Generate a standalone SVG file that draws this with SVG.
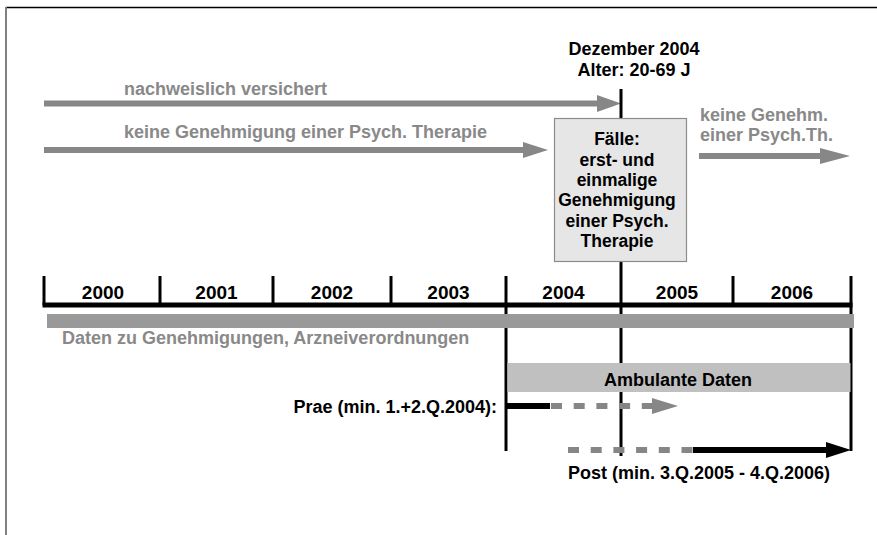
<svg xmlns="http://www.w3.org/2000/svg" width="877" height="535" viewBox="0 0 877 535">
<style>
text{font-family:"Liberation Sans",Arial,sans-serif;font-weight:bold;font-size:18px}
.g{fill:#898989}
.k{fill:#000}
.c{text-anchor:middle}
.ga{fill:#878787}
.yr{font-size:19px}
.bx{font-size:17.5px}
.dash{fill:none;stroke:#868686;stroke-width:6;stroke-dasharray:11 11.7}
.blk{stroke:#000;stroke-width:3;fill:none}
</style>
<rect x="0" y="0" width="877" height="535" fill="#fff"/>
<g id="frame">
<line x1="6" y1="7.5" x2="877" y2="7.5" stroke="#000" stroke-width="1.5"/>
<line x1="6" y1="7" x2="6" y2="535" stroke="#808080" stroke-width="2"/>
</g>
<g id="connectors">
<polygon class="ga" points="44,100.5 597,100.5 597,95 621,103.5 597,112 597,106.5 44,106.5"/>
<polygon class="ga" points="44,147 523,147 523,142 548,150 523,158 523,153 44,153"/>
<polygon class="ga" points="699,153 820,153 820,148 850,156 820,164 820,159 699,159"/>
<line class="blk" x1="621" y1="89" x2="621" y2="456"/>
<line class="blk" x1="506" y1="276" x2="506" y2="451"/>
<line class="blk" x1="851" y1="276" x2="851" y2="451"/>
<line class="blk" x1="44" y1="276" x2="44" y2="305"/>
<line class="blk" x1="160" y1="276" x2="160" y2="305"/>
<line class="blk" x1="273" y1="276" x2="273" y2="305"/>
<line class="blk" x1="391" y1="276" x2="391" y2="305"/>
<line class="blk" x1="733" y1="276" x2="733" y2="305"/>
<line x1="42.5" y1="305" x2="852.5" y2="305" stroke="#000" stroke-width="5"/>
<rect x="47" y="314" width="807" height="14" fill="#999"/>
<line x1="506" y1="406" x2="550" y2="406" stroke="#000" stroke-width="6"/>
<line class="dash" x1="551" y1="406" x2="652" y2="406"/>
<polygon class="ga" points="652,398 678,406 652,414"/>
<line class="dash" x1="568" y1="450" x2="693" y2="450"/>
<line x1="693" y1="450" x2="827" y2="450" stroke="#000" stroke-width="6"/>
<polygon fill="#000" points="826,442 851,450 826,458"/>
</g>
<g id="stichtag">
<text class="k c" x="634" y="55">Dezember 2004</text>
<text class="k c" x="634" y="76">Alter: 20-69 J</text>
</g>
<g id="versichert">
<text class="g" x="124" y="95">nachweislich versichert</text>
</g>
<g id="keine-genehmigung">
<text class="g" x="124" y="138">keine Genehmigung einer Psych. Therapie</text>
</g>
<g id="faelle">
<rect x="554.5" y="118.5" width="132" height="143" fill="#e6e6e6" stroke="#8c8c8c" stroke-width="1.2"/>
<text class="k c bx" x="617" y="145">Fälle:</text>
<text class="k c bx" x="617" y="165.5">erst- und</text>
<text class="k c bx" x="617" y="186">einmalige</text>
<text class="k c bx" x="617" y="206">Genehmigung</text>
<text class="k c bx" x="617" y="226.5">einer Psych.</text>
<text class="k c bx" x="617" y="247">Therapie</text>
</g>
<g id="keine-genehm-nach">
<text class="g" x="700" y="121">keine Genehm.</text>
<text class="g" x="700" y="141">einer Psych.Th.</text>
</g>
<g id="jahre">
<text class="k c yr" x="103" y="299">2000</text>
<text class="k c yr" x="216.5" y="299">2001</text>
<text class="k c yr" x="332" y="299">2002</text>
<text class="k c yr" x="448.5" y="299">2003</text>
<text class="k c yr" x="563.5" y="299">2004</text>
<text class="k c yr" x="677" y="299">2005</text>
<text class="k c yr" x="792" y="299">2006</text>
</g>
<g id="daten">
<text class="g" x="62" y="344">Daten zu Genehmigungen, Arzneiverordnungen</text>
</g>
<g id="ambulant">
<rect x="507.5" y="363" width="343" height="29" fill="#c0c0c0"/>
<text class="k c" x="678" y="386">Ambulante Daten</text>
</g>
<g id="prae">
<text class="k" x="497" y="413" text-anchor="end">Prae (min. 1.+2.Q.2004):</text>
</g>
<g id="post">
<text class="k" x="568" y="479">Post (min. 3.Q.2005 - 4.Q.2006)</text>
</g>
</svg>
